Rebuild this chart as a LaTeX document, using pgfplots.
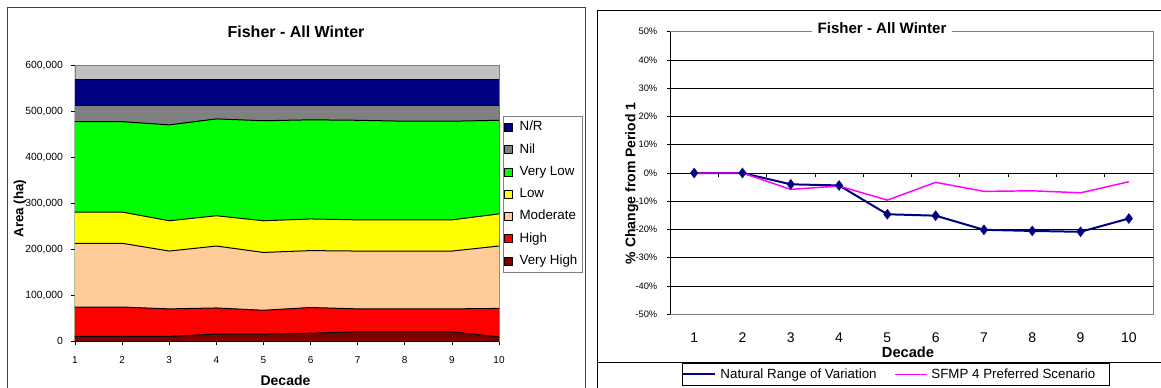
\documentclass[border=0pt]{standalone}
\usepackage{pgfplots}
\usepackage{pgfplotstable}
\pgfplotsset{compat=1.18}
\usepackage{fontspec}
\setmainfont{Liberation Sans}
\definecolor{cNR}{HTML}{000080}
\definecolor{cNil}{HTML}{808080}
\definecolor{cVL}{HTML}{00FF00}
\definecolor{cL}{HTML}{FFFF00}
\definecolor{cM}{HTML}{FFCC99}
\definecolor{cH}{HTML}{FF0000}
\definecolor{cVH}{HTML}{800000}
\definecolor{bgGray}{HTML}{C0C0C0}
\definecolor{navy}{HTML}{000080}
\definecolor{magenta2}{HTML}{FF00FF}

% cumulative tops of each class (ha)
\pgfplotstableread{
x  vh     h      m       l       vl      nil     nr
1  10000  74000  213000  281000  478000  514000  570000
2  10000  74000  213000  281000  478000  514000  570000
3  10000  70000  196000  262000  471000  514000  570000
4  15000  72000  207000  273000  484000  514000  570000
5  15000  67000  193000  262000  480000  514000  570000
6  17000  73000  197000  266000  482000  514000  570000
7  20000  70000  196000  264000  481000  514000  570000
8  20000  70000  196000  264000  479000  514000  570000
9  20000  70000  196000  264000  479000  514000  570000
10 9000   71000  207000  277000  481000  514000  570000
}\areadata

% percent change from period 1
\pgfplotstableread{
x  nrv    sfmp
1  0.0    0.0
2  0.0    0.0
3  -4.0   -5.8
4  -4.4   -4.6
5  -14.6  -9.6
6  -15.1  -3.3
7  -20.1  -6.5
8  -20.5  -6.3
9  -20.8  -7.0
10 -16.1  -3.1
}\pctdata

\begin{document}
\begin{tikzpicture}[x=0.75pt,y=0.75pt]
\useasboundingbox (0,0) rectangle (1161,387);
% ---------- left chart frame ----------
\draw[black!75, line width=0.75pt] (7,-10) -- (7,380) -- (585,380) -- (585,-10);
\node[font=\fontsize{12}{14}\selectfont\bfseries] at (296,355) {Fisher - All Winter};
\node[font=\fontsize{10}{12}\selectfont\bfseries, rotate=90] at (20,178.5) {Area (ha)};
\node[font=\fontsize{10.5}{12}\selectfont\bfseries] at (285.5,6.3) {Decade};

\begin{axis}[
  at={(56.25pt,34.5pt)}, anchor=south west, scale only axis,
  width=318pt, height=206.5pt,
  xmin=1, xmax=10, ymin=0, ymax=600000,
  xtick={1,...,10}, ytick={0,100000,...,600000},
  scaled y ticks=false,
  /pgf/number format/assume math mode=true,
  yticklabel style={/pgf/number format/fixed, /pgf/number format/1000 sep={,},
     font=\fontsize{7.8}{9}\selectfont, xshift=-2.5pt},
  xticklabel style={font=\fontsize{7.5}{9}\selectfont, yshift=-5pt},
  tick align=outside, tick pos=left, major tick length=3pt,
  tick style={black, line width=0.5pt},
  axis background/.style={fill=bgGray},
  axis line style={draw=black!50, line width=0.6pt},
  legend image code/.code={\draw[#1, draw=black, line width=0.4pt] (0pt,-3pt) rectangle (6pt,3pt);},
  legend style={at={(1.0087,0.8184)}, anchor=north west, draw=black!50, fill=white,
     font=\fontsize{10}{12}\selectfont, inner sep=1pt, row sep=1.5pt,
     nodes={text height=7.5pt, text depth=2.5pt, inner sep=2.6pt},
     cells={anchor=west}},
]
\addplot[fill=cNR, draw=none] table[x=x,y=nr] {\areadata} \closedcycle;
\addlegendentry{\rule{2.5pt}{0pt}N/R}
\addplot[fill=cNil, draw=none] table[x=x,y=nil] {\areadata} \closedcycle;
\addlegendentry{\rule{2.5pt}{0pt}Nil}
\addplot[fill=cVL, draw=none] table[x=x,y=vl] {\areadata} \closedcycle;
\addlegendentry{\rule{2.5pt}{0pt}Very Low}
\addplot[fill=cL, draw=none] table[x=x,y=l] {\areadata} \closedcycle;
\addlegendentry{\rule{2.5pt}{0pt}Low}
\addplot[fill=cM, draw=none] table[x=x,y=m] {\areadata} \closedcycle;
\addlegendentry{\rule{2.5pt}{0pt}Moderate}
\addplot[fill=cH, draw=none] table[x=x,y=h] {\areadata} \closedcycle;
\addlegendentry{\rule{2.5pt}{0pt}High}
\addplot[fill=cVH, draw=none] table[x=x,y=vh] {\areadata} \closedcycle;
\addlegendentry{\rule{2.5pt}{0pt}Very High}
\addplot[black, line width=0.75pt, forget plot] table[x=x,y=nr] {\areadata};
\addplot[black, line width=0.75pt, forget plot] table[x=x,y=nil] {\areadata};
\addplot[black, line width=0.75pt, forget plot] table[x=x,y=vl] {\areadata};
\addplot[black, line width=0.75pt, forget plot] table[x=x,y=l] {\areadata};
\addplot[black, line width=0.75pt, forget plot] table[x=x,y=m] {\areadata};
\addplot[black, line width=0.75pt, forget plot] table[x=x,y=h] {\areadata};
\addplot[black, line width=0.75pt, forget plot] table[x=x,y=vh] {\areadata};
\draw[black, line width=0.75pt] (axis description cs:0,0) -- (axis description cs:0,1);
\draw[black, line width=0.75pt] (axis description cs:0,0) -- (axis description cs:1,0);
\end{axis}

% ---------- right chart frame ----------
\draw[black, line width=0.75pt] (597,-10) -- (597,377) -- (1170,377);
\draw[black, line width=0.75pt] (597,24.3) -- (1170,24.3);
\node[font=\fontsize{10.5}{12}\selectfont\bfseries, rotate=90] at (631.7,203.7) {\% Change from Period 1};
\node[font=\fontsize{11}{13}\selectfont\bfseries] at (908,34.5) {Decade};

\begin{axis}[
  at={(502.5pt,54.525pt)}, anchor=south west, scale only axis,
  width=362.25pt, height=211.95pt,
  xmin=0.5, xmax=10.5, ymin=-50, ymax=50,
  xtick={1,...,10}, ytick={-50,-40,...,50},
  /pgf/number format/assume math mode=true,
  yticklabel={\pgfmathprintnumber{\tick}\%},
  yticklabel style={font=\fontsize{7}{8}\selectfont, xshift=-3.5pt},
  xticklabel style={font=\fontsize{10.5}{12}\selectfont, yshift=-8pt},
  major x tick style={draw=none},
  tick align=outside, ytick pos=left, major tick length=2.5pt,
  tick style={black, line width=0.5pt},
  ymajorgrids, grid style={black, line width=0.6pt},
  axis line style={draw=black!50, line width=0.6pt},
  legend image code/.code={\draw[#1] (0pt,0pt) -- (24pt,0pt);},
  legend columns=2,
  legend style={at={(0.0248,-0.1713)}, anchor=north west, draw=black, line width=0.75pt,
     font=\fontsize{10}{12}\selectfont, inner xsep=0pt, inner ysep=1pt,
     column sep=0pt,
     /tikz/every even column/.append style={column sep=10pt},
     nodes={inner sep=3pt}},
]
\addplot[navy, line width=1.5pt, mark=diamond*, mark size=2.8pt] table[x=x,y=nrv] {\pctdata};
\addlegendentry{Natural Range of Variation}
\addplot[magenta2, line width=1.1pt] table[x=x,y=sfmp] {\pctdata};
\addlegendentry{SFMP 4 Preferred Scenario\rule{8pt}{0pt}}
\draw[black, line width=0.75pt] (axis description cs:0,0) -- (axis description cs:0,1);
\pgfplotsinvokeforeach{1.5,2.5,3.5,4.5,5.5,6.5,7.5,8.5,9.5,10.5}{
  \draw[black, line width=0.6pt] (axis cs:#1,0) -- (axis cs:#1,-1.4);
}
\end{axis}
\node[font=\fontsize{11.3}{13}\selectfont\bfseries, fill=white, inner xsep=4pt, inner ysep=2pt] at (882,358.7) {Fisher - All Winter};
\end{tikzpicture}
\end{document}
